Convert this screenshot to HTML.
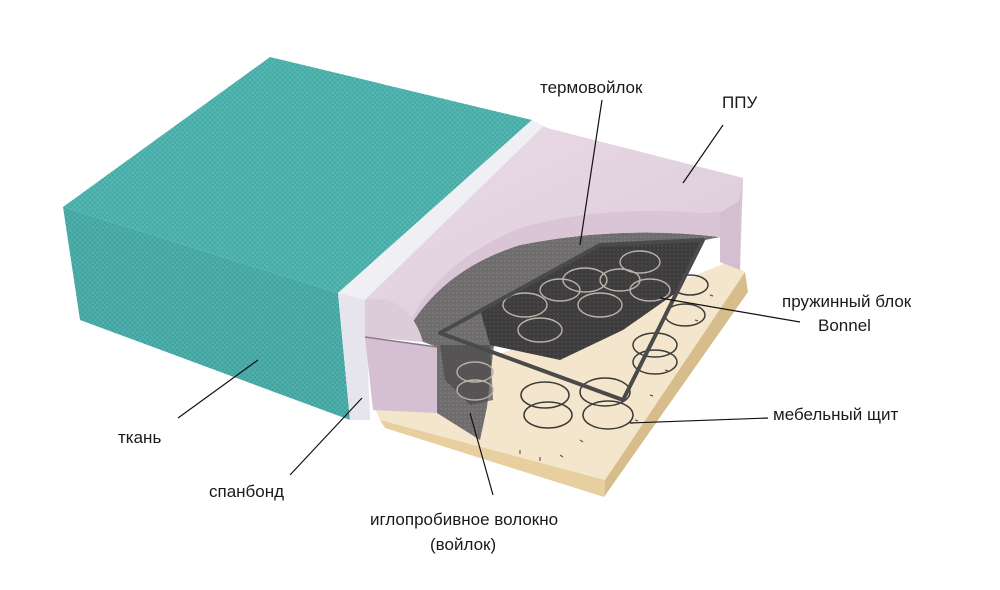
<!DOCTYPE html>
<html><head><meta charset="utf-8"><style>
body{margin:0;background:#fff}
svg{display:block}
text{font-family:"Liberation Sans",sans-serif;font-size:17px;fill:#1a1a1a}
</style></head><body>
<svg width="1000" height="590" viewBox="0 0 1000 590">
<defs>
<pattern id="weave" width="5" height="5" patternUnits="userSpaceOnUse">
<rect width="5" height="5" fill="#44aaa5"/>
<path d="M0 0L5 5M5 0L0 5" stroke="#5cbab5" stroke-width="0.8"/>
</pattern>
<pattern id="weave2" width="5" height="5" patternUnits="userSpaceOnUse">
<rect width="5" height="5" fill="#3fa39f"/>
<path d="M0 0L5 5M5 0L0 5" stroke="#58b2ae" stroke-width="0.8"/>
</pattern>
<pattern id="felt" width="4" height="4" patternUnits="userSpaceOnUse">
<rect width="4" height="4" fill="#6e6c6d"/>
<circle cx="1" cy="1" r="0.8" fill="#858384"/>
</pattern>
<pattern id="dark" width="4" height="4" patternUnits="userSpaceOnUse">
<rect width="4" height="4" fill="#3e3c3d"/>
<circle cx="2" cy="2" r="0.8" fill="#555"/>
</pattern>
<linearGradient id="pinkTop" x1="0" y1="0" x2="1" y2="1">
<stop offset="0" stop-color="#e9dbe6"/><stop offset="1" stop-color="#dccbd9"/>
</linearGradient>
</defs>
<!-- teal block -->
<polygon points="63,207 270,57 532,120 338,293" fill="url(#weave)"/>
<polygon points="63,207 338,293 350,420 80,320" fill="url(#weave2)"/>
<!-- spanbond -->
<polygon points="338,293 532,120 548,128 365,300 370,420 350,420" fill="#f0eff4"/>
<polygon points="338,293 365,300 370,420 350,420" fill="#e6e5ee"/>
<!-- board -->
<polygon points="373,405 728,262 745,272 605,480 380,420" fill="#f4e6cc"/>
<polygon points="380,420 605,480 604,497 385,428" fill="#e8cf9f"/>
<polygon points="605,480 745,272 748,292 604,497" fill="#d8bd8c"/>
<!-- light springs on board (dark coils) -->
<g fill="none" stroke="#3a3a3a" stroke-width="1.5">
<ellipse cx="690" cy="285" rx="18" ry="10"/><ellipse cx="685" cy="315" rx="20" ry="11"/>
<ellipse cx="655" cy="345" rx="22" ry="12"/><ellipse cx="655" cy="362" rx="22" ry="12"/>
<ellipse cx="605" cy="392" rx="25" ry="14"/><ellipse cx="608" cy="415" rx="25" ry="14"/>
<ellipse cx="545" cy="395" rx="24" ry="13"/><ellipse cx="548" cy="415" rx="24" ry="13"/>
</g>
<!-- felt big -->
<path d="M405,335 Q440,270 520,245 Q620,225 720,237 L705,240 L600,245 L500,300 L493,353 L487,407 L480,440 L437,413 L437,347 Z" fill="url(#felt)"/>
<!-- springs dark region (cut through felt) -->
<path d="M480,310 L600,245 L705,240 L680,290 L623,330 L560,360 L490,345 Z" fill="url(#dark)"/>
<path d="M440,345 L490,345 L493,400 L470,405 L445,380 Z" fill="#4a4849" opacity="0.7"/>
<!-- foam back & right arm -->
<path d="M543,127 L743,178 L740,270 L720,262 L720,237 Q620,225 520,245 Q440,270 405,335 L365,300 Z" fill="#d9c5d5"/>
<path d="M365,300 L543,127 L743,178 L738,205 Q725,213 700,213 Q600,205 520,228 Q440,262 412,318 Z" fill="url(#pinkTop)"/>
<path d="M720,213 L740,200 L740,270 L720,262 Z" fill="#d3bfd0"/>
<!-- foam front blocks -->
<path d="M365,300 Q395,295 412,318 Q420,330 423,342 L365,337 Z" fill="#dccbd9"/>
<polygon points="365,337 437,347 437,413 373,410" fill="#d4c0d2"/>
<line x1="365" y1="337" x2="437" y2="347" stroke="#8a7a88" stroke-width="1.5"/>
<!-- springs inside dark -->
<g fill="none" stroke="#b8b4ac" stroke-width="1.4">
<ellipse cx="475" cy="372" rx="18" ry="10"/><ellipse cx="475" cy="390" rx="18" ry="10"/>
<ellipse cx="525" cy="305" rx="22" ry="12"/><ellipse cx="540" cy="330" rx="22" ry="12"/>
<ellipse cx="585" cy="280" rx="22" ry="12"/><ellipse cx="600" cy="305" rx="22" ry="12"/>
<ellipse cx="640" cy="262" rx="20" ry="11"/><ellipse cx="650" cy="290" rx="20" ry="11"/>
<ellipse cx="560" cy="290" rx="20" ry="11"/><ellipse cx="620" cy="280" rx="20" ry="11"/>
</g>
<polygon points="440,333 623,400 703,240 600,245" fill="none" stroke="#4a4a4a" stroke-width="4" stroke-linejoin="round"/>
<!-- board ticks -->
<g stroke="#6a5a40" stroke-width="1.2">
<line x1="560" y1="455" x2="563" y2="457"/><line x1="580" y1="440" x2="583" y2="442"/>
<line x1="635" y1="420" x2="638" y2="421"/>
<line x1="650" y1="395" x2="653" y2="396"/><line x1="665" y1="370" x2="668" y2="371"/>
<line x1="695" y1="320" x2="698" y2="321"/>
<line x1="710" y1="295" x2="713" y2="296"/><line x1="520" y1="450" x2="520" y2="454"/>
<line x1="540" y1="457" x2="540" y2="461"/>
</g>
<!-- leader lines -->
<g stroke="#111" stroke-width="1.2">
<line x1="602" y1="100" x2="580" y2="245"/>
<line x1="723" y1="125" x2="683" y2="183"/>
<line x1="800" y1="322" x2="660" y2="298"/>
<line x1="768" y1="418" x2="630" y2="423"/>
<line x1="178" y1="418" x2="258" y2="360"/>
<line x1="290" y1="475" x2="362" y2="398"/>
<line x1="493" y1="495" x2="470" y2="413"/>
</g>
<text x="540" y="93">термовойлок</text>
<text x="722" y="108">ППУ</text>
<text x="782" y="307">пружинный блок</text>
<text x="818" y="331">Bonnel</text>
<text x="773" y="420">мебельный щит</text>
<text x="118" y="443">ткань</text>
<text x="209" y="497">спанбонд</text>
<text x="370" y="525">иглопробивное волокно</text>
<text x="430" y="550">(войлок)</text>
</svg>
</body></html>
